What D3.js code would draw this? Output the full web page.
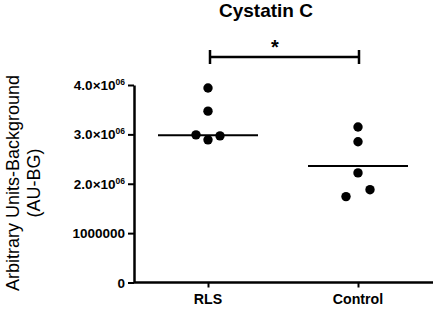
<!DOCTYPE html>
<html>
<head>
<meta charset="utf-8">
<script src="https://cdn.jsdelivr.net/npm/d3@7"></script>
<style>
  body { margin: 0; background: #fff; }
  text { font-family: "Liberation Sans", Arial, sans-serif; }
</style>
</head>
<body>
<div id="chart"></div>
<script>
// values
const groups = ["RLS", "Control"];
const rlsValues = [3.94e6, 3.47e6, 2.99e6, 2.89e6, 2.97e6];
const rlsOffsets = [0, 0, -1, 0, 1];
const controlValues = [3.15e6, 2.85e6, 2.22e6, 1.88e6, 1.74e6];
const controlOffsets = [0, 0, 0, 1, -1];
const centerLines = [2.98e6, 2.36e6];
const yTicks = [0, 1e6, 2e6, 3e6, 4e6];

const width = 437, height = 309;
const margin = { top: 85, right: 4, bottom: 26, left: 134 };

const svg = d3.select("#chart").append("svg")
    .attr("width", width)
    .attr("height", height);

const x = d3.scalePoint()
    .domain(groups)
    .range([208, 358]);

const y = d3.scaleLinear()
    .domain([0, 4e6])
    .range([height - margin.bottom - 0.5, margin.top]);

// y axis
const yAxis = svg.append("g")
    .attr("transform", `translate(${margin.left},0)`)
    .call(d3.axisLeft(y).tickValues(yTicks).tickSize(6).tickSizeOuter(0).tickFormat(""));
yAxis.select(".domain").attr("stroke-width", 2.5);
yAxis.selectAll(".tick line").attr("stroke-width", 2);

const yLab = svg.append("g").selectAll("text")
    .data(yTicks)
    .join("text")
    .attr("x", margin.left - 9)
    .attr("y", d => y(d) + 5)
    .attr("text-anchor", "end")
    .attr("font-size", 13.5)
    .attr("font-weight", "bold");
yLab.each(function(d) {
    const t = d3.select(this);
    if (d === 0) t.text("0");
    else if (d === 1e6) t.text("1000000");
    else {
        t.append("tspan").text((d / 1e6).toFixed(1) + "\u00d710");
        t.append("tspan").attr("font-size", 8.5).attr("dy", -5).text("06");
    }
});

// x axis
const xAxis = svg.append("g")
    .attr("transform", `translate(0,${y(0)})`)
    .call(d3.axisBottom(x).tickSize(5).tickSizeOuter(0).tickFormat(""));
xAxis.select(".domain").attr("d", `M${margin.left},0H${width - margin.right}`).attr("stroke-width", 2.5);
xAxis.selectAll(".tick line").attr("stroke-width", 2);

svg.append("g").selectAll("text")
    .data(groups)
    .join("text")
    .attr("x", d => x(d))
    .attr("y", 304)
    .attr("text-anchor", "middle")
    .attr("font-size", 14.2)
    .attr("font-weight", "bold")
    .text(d => d);

// center lines
svg.append("g").selectAll("line")
    .data(groups)
    .join("line")
    .attr("x1", d => x(d) - 50)
    .attr("x2", d => x(d) + 50)
    .attr("y1", (d, i) => y(centerLines[i]))
    .attr("y2", (d, i) => y(centerLines[i]))
    .attr("stroke", "#000")
    .attr("stroke-width", 2);

// points
const pts = [];
rlsValues.forEach((v, i) => pts.push({ g: "RLS", v: v, o: rlsOffsets[i] }));
controlValues.forEach((v, i) => pts.push({ g: "Control", v: v, o: controlOffsets[i] }));

svg.append("g").selectAll("circle")
    .data(pts)
    .join("circle")
    .attr("cx", d => x(d.g) + d.o * 12)
    .attr("cy", d => y(d.v))
    .attr("r", 4.7)
    .attr("fill", "#000");

// significance bar
const sig = svg.append("g").attr("stroke", "#000").attr("stroke-width", 2.5);
sig.append("line").attr("x1", x("RLS") + 2).attr("x2", x("Control") + 1).attr("y1", 57).attr("y2", 57);
sig.append("line").attr("x1", x("RLS") + 2).attr("x2", x("RLS") + 2).attr("y1", 50).attr("y2", 64);
sig.append("line").attr("x1", x("Control") + 1).attr("x2", x("Control") + 1).attr("y1", 50).attr("y2", 64);
svg.append("text")
    .attr("x", 275)
    .attr("y", 54)
    .attr("text-anchor", "middle")
    .attr("font-size", 20)
    .attr("font-weight", "bold")
    .text("*");

// title
svg.append("text")
    .attr("x", 266)
    .attr("y", 17)
    .attr("text-anchor", "middle")
    .attr("font-size", 19)
    .attr("font-weight", "bold")
    .text("Cystatin C");

// y axis title
const yt = svg.append("text")
    .attr("transform", "translate(19,183) rotate(-90)")
    .attr("text-anchor", "middle")
    .attr("font-size", 18);
yt.append("tspan").attr("x", 0).attr("y", 0).text("Arbitrary Units-Background");
yt.append("tspan").attr("x", 0).attr("y", 21).text("(AU-BG)");
</script>
</body>
</html>
